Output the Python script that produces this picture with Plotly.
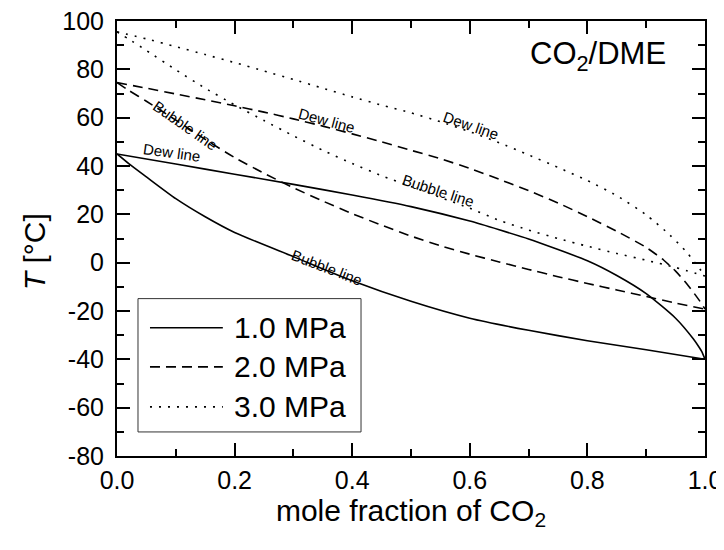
import plotly.graph_objects as go

# ---------------- data ----------------
x_dew_1 = [0, 0.1, 0.2, 0.3, 0.4, 0.5, 0.6, 0.65, 0.7, 0.8, 0.85, 0.9, 0.95, 0.98, 0.99, 0.995, 1.0]
t_dew_1 = [45, 40.8, 36.6, 32.4, 28, 23.2, 17.2, 13.6, 9.8, 0.8, -5.3, -12.8, -23, -31.5, -35, -37, -40]

x_bub_1 = [0, 0.02, 0.05, 0.1, 0.15, 0.2, 0.3, 0.4, 0.5, 0.6, 0.7, 0.8, 0.9, 1.0]
t_bub_1 = [45, 41, 35.5, 26.5, 19, 12.5, 2.5, -7.5, -16, -23, -28, -32.3, -36, -40]

x_dew_2 = [0, 0.05, 0.1, 0.15, 0.2, 0.25, 0.3, 0.35, 0.4, 0.45, 0.5, 0.55, 0.6, 0.65,
           0.7, 0.75, 0.8, 0.85, 0.9, 0.93, 0.95, 0.97, 0.99, 1.0]
t_dew_2 = [74.5, 72.2, 69.8, 67.4, 64.9, 62.3, 59.5, 56.5, 53.3, 50, 46.5, 43, 39, 34.5,
           29.8, 24.7, 19, 13, 6.3, 1, -3.5, -9, -15.5, -19.2]

x_bub_2 = [0, 0.02, 0.05, 0.1, 0.15, 0.2, 0.25, 0.3, 0.35, 0.4, 0.45, 0.5, 0.55, 0.6,
           0.65, 0.7, 0.75, 0.8, 0.85, 0.9, 0.95, 1.0]
t_bub_2 = [74.5, 71.3, 66.8, 59, 51, 43.5, 37, 31, 25.5, 20.3, 15.5, 11, 7, 3.5,
           0.3, -2.8, -5.8, -8.6, -11.3, -14, -16.7, -19.2]

x_dew_3 = [0, 0.05, 0.1, 0.15, 0.2, 0.25, 0.3, 0.35, 0.4, 0.45, 0.5, 0.55, 0.6, 0.65,
           0.7, 0.75, 0.8, 0.85, 0.9, 0.94, 0.97, 1.0]
t_dew_3 = [95.5, 92.6, 89.4, 86.1, 82.8, 79.3, 75.8, 72.2, 68.6, 65.2, 62, 58.3, 54.2, 49.6,
           44.6, 39.4, 34, 27.7, 19.8, 11.5, 4, -5.5]

x_bub_3 = [0, 0.02, 0.05, 0.1, 0.15, 0.2, 0.25, 0.3, 0.35, 0.4, 0.45, 0.5, 0.55, 0.6,
           0.65, 0.7, 0.75, 0.8, 0.85, 0.9, 0.95, 1.0]
t_bub_3 = [95.5, 92.5, 87.8, 79.8, 72.2, 65.3, 58.8, 52.5, 46.5, 41, 36, 31.5, 27, 22.5,
           17.5, 13.5, 10, 6.8, 3.8, 1, -2, -5.5]

pressures = ["1.0 MPa", "2.0 MPa", "3.0 MPa"]

# curve labels: text, x, T, angle
label_text = ["Dew line", "Bubble line", "Dew line", "Bubble line", "Dew line", "Bubble line"]
label_x = [0.094, 0.357, 0.357, 0.116, 0.602, 0.546]
label_t = [45.4, -1.8, 59.0, 56.6, 56.6, 29.7]
label_angle = [8, 21, 15, 35, 19, 18]

y_tick_vals = [-80, -60, -40, -20, 0, 20, 40, 60, 80, 100]
y_tick_text = ["-80", "-60", "-40", "-20", "0", "20", "40", "60", "80", "100"]
x_tick_vals = [0.0, 0.2, 0.4, 0.6, 0.8, 1.0]
x_tick_text = ["0.0", "0.2", "0.4", "0.6", "0.8", "1.0"]

# ---------------- figure ----------------
FONT = "Liberation Sans, Arial, Helvetica, sans-serif"
dashes = ["solid", "10px,6px", "2px,7px"]
LW = 1.6

fig = go.Figure()
curves = [
    (x_dew_1, t_dew_1, 0), (x_bub_1, t_bub_1, 0),
    (x_dew_2, t_dew_2, 1), (x_bub_2, t_bub_2, 1),
    (x_dew_3, t_dew_3, 2), (x_bub_3, t_bub_3, 2),
]
for xs, ts, k in curves:
    fig.add_trace(go.Scatter(
        x=xs, y=ts, mode="lines", name=pressures[k], showlegend=False,
        line=dict(color="black", width=LW, dash=dashes[k], shape="spline", smoothing=0.6),
    ))

for txt, lx, lt, ang in zip(label_text, label_x, label_t, label_angle):
    fig.add_annotation(x=lx, y=lt, xref="x", yref="y", text=txt, showarrow=False,
                       textangle=ang, xanchor="center", yanchor="middle",
                       font=dict(family=FONT, size=15, color="black"))

# custom legend (box, line samples, texts) in paper coordinates
fig.add_shape(type="rect", xref="paper", yref="paper", x0=0.0357, x1=0.415, y0=0.0553, y1=0.3618,
              line=dict(color="#333333", width=1), fillcolor="white", layer="above")
leg_y = [0.295, 0.205, 0.113]
for k in range(3):
    fig.add_shape(type="line", xref="paper", yref="paper", x0=0.0561, x1=0.180,
                  y0=leg_y[k], y1=leg_y[k], layer="above",
                  line=dict(color="black", width=LW, dash=dashes[k]))
    fig.add_annotation(x=0.195, y=leg_y[k], xref="paper", yref="paper", text=pressures[k],
                       showarrow=False, xanchor="left", yanchor="middle",
                       font=dict(family=FONT, size=30, color="black"))

fig.add_annotation(x=0.937, y=0.92, xref="paper", yref="paper", text="CO<sub>2</sub>/DME",
                   showarrow=False, xanchor="right", yanchor="middle",
                   font=dict(family=FONT, size=31, color="black"))

fig.add_annotation(x=-0.139, y=0.469, xref="paper", yref="paper", text="<i>T</i> [°C]",
                   showarrow=False, textangle=-90, xanchor="center", yanchor="middle",
                   font=dict(family=FONT, size=30, color="black"))

axis_common = dict(
    showline=True, linecolor="black", linewidth=2, mirror="ticks",
    ticks="inside", ticklen=13, tickwidth=2, tickcolor="black",
    showgrid=False, zeroline=False, automargin=False, ticklabeloverflow="allow",
    tickfont=dict(family=FONT, size=25, color="black"),
)

fig.update_xaxes(range=[0, 1], tickvals=x_tick_vals, ticktext=x_tick_text,
                 minor=dict(tickvals=[0.1, 0.3, 0.5, 0.7, 0.9], ticks="inside", ticklen=7,
                            tickwidth=2, tickcolor="black"),
                 ticklabelstandoff=1,
                 title=dict(text="mole fraction of CO<sub>2</sub>", standoff=4,
                            font=dict(family=FONT, size=30, color="black")),
                 **axis_common)
fig.update_yaxes(range=[-80, 100], tickvals=y_tick_vals, ticktext=y_tick_text,
                 minor=dict(tickvals=[-70, -50, -30, -10, 10, 30, 50, 70, 90], ticks="inside",
                            ticklen=7, tickwidth=2, tickcolor="black"),
                 ticklabelstandoff=6,
                 **axis_common)

# the page body adds an 8 px offset, so the figure is 8 px smaller and margins shifted
fig.update_layout(
    width=716, height=542,
    margin=dict(l=109, r=19, t=13, b=94, pad=0, autoexpand=False),
    paper_bgcolor="white", plot_bgcolor="white",
    font=dict(family=FONT, color="black"),
    showlegend=False,
)

fig.write_html("out.html")
